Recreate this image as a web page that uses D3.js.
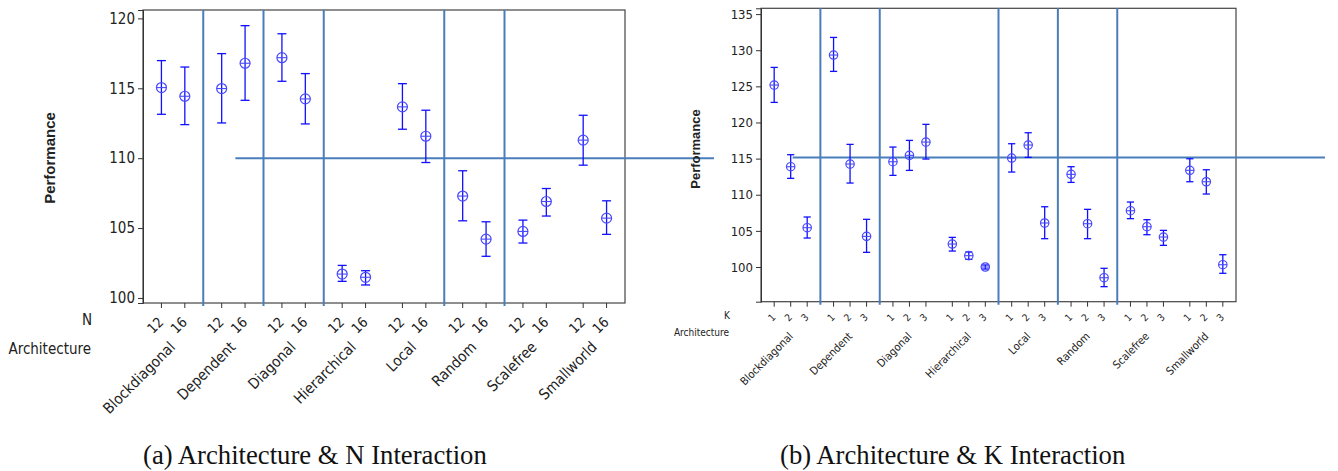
<!DOCTYPE html>
<html>
<head>
<meta charset="utf-8">
<script src="https://cdn.jsdelivr.net/npm/d3@7"></script>
<style>
  body { margin: 0; background: #fff; }
  svg { display: block; }
  text { font-family: "DejaVu Sans Condensed", "Liberation Sans", sans-serif; fill: #222; }
  .caption { font-family: "Liberation Serif", serif; font-size: 26.7px; fill: #111; }
</style>
</head>
<body>
<svg id="chart" width="1338" height="471"></svg>
<script>
// categories
const architectures = ["Blockdiagonal", "Dependent", "Diagonal", "Hierarchical", "Local", "Random", "Scalefree", "Smallworld"];
const nLevels = ["12", "16"];
const kLevels = ["1", "2", "3"];

// (a) Architecture x N : mean and 95% CI, ordered arch by arch, level by level
const nMean  = [115.05, 114.43, 114.98, 116.79, 117.19, 114.24, 101.71, 101.48, 113.67, 111.57, 107.29, 104.21, 104.76, 106.90, 111.29, 105.71];
const nLower = [113.14, 112.40, 112.52, 114.14, 115.50, 112.45, 101.19, 100.93, 112.07, 109.69, 105.52, 102.98, 103.93, 105.86, 109.50, 104.55];
const nUpper = [116.98, 116.52, 117.48, 119.48, 118.90, 116.05, 102.33, 101.95, 115.33, 113.43, 109.10, 105.45, 105.57, 107.83, 113.07, 106.95];
const nTicks = [100, 105, 110, 115, 120];

// (b) Architecture x K
const kMean  = [125.18, 113.88, 105.44, 129.33, 114.25, 104.24, 114.57, 115.45, 117.29, 103.18, 101.57, 100.00,
                115.08, 116.88, 106.09, 112.82, 105.99, 98.52, 107.79, 105.58, 104.15, 113.38, 111.80, 100.32];
const kLower = [122.78, 112.27, 104.01, 127.07, 111.62, 102.03, 112.68, 113.37, 114.94, 102.21, 101.06, 99.72,
                113.14, 115.17, 103.92, 111.71, 103.92, 97.28, 106.69, 104.47, 103.00, 111.80, 110.10, 99.13];
const kUpper = [127.62, 115.54, 106.92, 131.77, 116.97, 106.60, 116.60, 117.52, 119.74, 104.10, 102.08, 100.28,
                117.06, 118.58, 108.34, 113.88, 107.98, 99.82, 108.99, 106.55, 105.07, 114.98, 113.46, 101.70];
const kTicks = [100, 105, 110, 115, 120, 125, 130, 135];

// reference lines
const nRefValue = 110, kRefValue = 115.15;
const nDividers = [1, 2, 3, 5, 6];   // boundaries between architecture groups
const kDividers = [1, 2, 4, 5, 6];

const svg = d3.select("#chart");
const lineBlue = "#4a7ebb";

function panel(cfg) {
  const g = svg.append("g");
  const x = d3.scaleBand().domain(architectures).range([cfg.left, cfg.right]).paddingInner(0).paddingOuter(0);
  const inner = d3.scalePoint().domain(cfg.levels).range([-cfg.spread, cfg.spread]);
  const y = d3.scaleLinear().domain(cfg.domain).range([cfg.bottom, cfg.top]);

  const rows = [];
  architectures.forEach((a, i) => cfg.levels.forEach((l, j) => {
    const k = i * cfg.levels.length + j;
    rows.push({ arch: a, level: l, mean: cfg.mean[k], lo: cfg.lower[k], hi: cfg.upper[k] });
  }));
  const px = d => x(d.arch) + x.bandwidth() / 2 + inner(d.level);

  // frame
  g.append("rect")
    .attr("x", cfg.left).attr("y", cfg.top)
    .attr("width", cfg.right - cfg.left).attr("height", cfg.bottom - cfg.top)
    .attr("fill", "none").attr("stroke", "#444").attr("stroke-width", 1.2);

  // y axis
  const ya = g.append("g")
    .attr("transform", `translate(${cfg.left},0)`)
    .call(d3.axisLeft(y).tickValues(cfg.ticks).tickSize(5).tickPadding(3).tickFormat(d3.format("d")));
  ya.select(".domain").attr("stroke", "#333");
  ya.selectAll(".tick line").attr("stroke", "#333");
  ya.selectAll("text").style("font-size", cfg.yFont + "px").attr("fill", "#222");

  // x ticks
  g.append("g").selectAll("line").data(rows).join("line")
    .attr("x1", px).attr("x2", px)
    .attr("y1", cfg.bottom).attr("y2", cfg.bottom + 5)
    .attr("stroke", "#333");

  // level labels
  g.append("g").selectAll("text").data(rows).join("text")
    .attr("transform", d => `translate(${px(d) + cfg.lvlDx},${cfg.lvlY}) rotate(-45)`)
    .attr("text-anchor", "end")
    .style("font-size", cfg.lvlFont + "px")
    .text(d => d.level);

  // architecture labels
  g.append("g").selectAll("text").data(architectures).join("text")
    .attr("transform", d => `translate(${x(d) + x.bandwidth() / 2 + cfg.archDx},${cfg.archY}) rotate(-45)`)
    .attr("text-anchor", "end")
    .style("font-size", cfg.archFont + "px")
    .text(d => d);

  // row titles
  g.append("text").attr("x", cfg.rowTitleX).attr("y", cfg.lvlTitleY)
    .attr("text-anchor", "end").attr("dominant-baseline", "central")
    .style("font-size", cfg.titleFont + "px").text(cfg.levelName);
  g.append("text").attr("x", cfg.rowTitleX - 1).attr("y", cfg.archTitleY)
    .attr("text-anchor", "end").attr("dominant-baseline", "central")
    .style("font-size", cfg.titleFont + "px").text("Architecture");

  // y title
  g.append("text")
    .attr("transform", `translate(${cfg.yTitleX},${cfg.yTitleY}) rotate(-90)`)
    .attr("text-anchor", "middle").attr("dominant-baseline", "central")
    .style("font-size", cfg.yTitleFont + "px").style("font-weight", "bold")
    .style("font-family", "'Liberation Sans', sans-serif")
    .text("Performance");

  // divider lines
  g.append("g").selectAll("line").data(cfg.dividers).join("line")
    .attr("x1", d => cfg.left + d * x.bandwidth()).attr("x2", d => cfg.left + d * x.bandwidth())
    .attr("y1", cfg.top).attr("y2", cfg.bottom + 3)
    .attr("stroke", lineBlue).attr("stroke-width", 2);

  // reference line
  g.append("line")
    .attr("x1", x(cfg.refFrom) + x.bandwidth() / 2 + 2).attr("x2", cfg.right + 89)
    .attr("y1", y(cfg.refValue)).attr("y2", y(cfg.refValue))
    .attr("stroke", lineBlue).attr("stroke-width", 2);

  // interval bars
  const pts = g.append("g").selectAll("g").data(rows).join("g");
  pts.append("line")
    .attr("x1", px).attr("x2", px)
    .attr("y1", d => y(d.lo)).attr("y2", d => y(d.hi))
    .attr("stroke", "#1010ff").attr("stroke-width", 1.3);
  pts.selectAll(".cap").data(d => [d.lo, d.hi].map(v => ({ x: px(d), v }))).join("line")
    .attr("x1", d => d.x - cfg.cap).attr("x2", d => d.x + cfg.cap)
    .attr("y1", d => y(d.v)).attr("y2", d => y(d.v))
    .attr("stroke", "#1010ff").attr("stroke-width", 1.3);
  pts.append("circle")
    .attr("cx", px).attr("cy", d => y(d.mean)).attr("r", cfg.r)
    .attr("fill", "none").attr("stroke", "#4848ff").attr("stroke-width", 1.2);
  pts.append("line")
    .attr("x1", d => px(d) - cfg.r).attr("x2", d => px(d) + cfg.r)
    .attr("y1", d => y(d.mean)).attr("y2", d => y(d.mean))
    .attr("stroke", "#4848ff").attr("stroke-width", 1.1);

  // caption
  svg.append("text").attr("class", "caption")
    .attr("x", cfg.capX).attr("y", 464).text(cfg.caption);
}

panel({
  left: 143, right: 625, top: 10, bottom: 303, domain: [99.64, 120.6],
  ticks: nTicks, levels: nLevels, levelName: "N", spread: 11.7,
  mean: nMean, lower: nLower, upper: nUpper,
  dividers: nDividers, refValue: nRefValue, refFrom: "Dependent",
  yFont: 15, lvlFont: 14, lvlDx: 3, lvlY: 323, archFont: 15, archDx: 3, archY: 348,
  titleFont: 15, rowTitleX: 92, lvlTitleY: 320, archTitleY: 349,
  yTitleX: 49, yTitleY: 158, yTitleFont: 15,
  r: 5, cap: 4.5,
  caption: "(a) Architecture & N Interaction", capX: 143
});

panel({
  left: 761, right: 1236, top: 8.3, bottom: 301.7, domain: [95.2, 135.8],
  ticks: kTicks, levels: kLevels, levelName: "K", spread: 16.5,
  mean: kMean, lower: kLower, upper: kUpper,
  dividers: kDividers, refValue: kRefValue, refFrom: "Blockdiagonal",
  yFont: 13, lvlFont: 10, lvlDx: 2, lvlY: 318, archFont: 11, archDx: 3, archY: 337,
  titleFont: 10, rowTitleX: 730, lvlTitleY: 315, archTitleY: 332,
  yTitleX: 695, yTitleY: 149, yTitleFont: 13,
  r: 4.2, cap: 3.6,
  caption: "(b) Architecture & K Interaction", capX: 780
});
</script>
</body>
</html>
